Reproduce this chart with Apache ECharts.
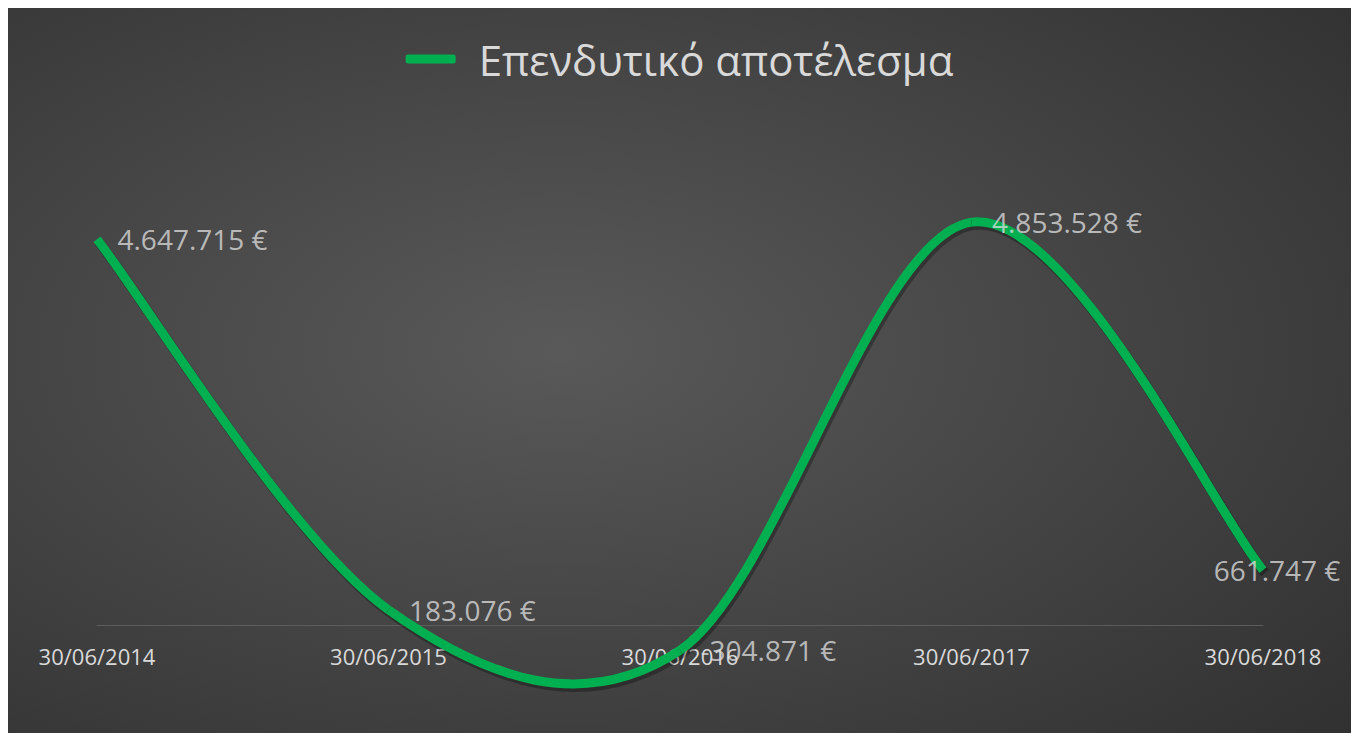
<!DOCTYPE html>
<html>
<head>
<meta charset="utf-8">
<script src="https://cdn.jsdelivr.net/npm/echarts@6/dist/echarts.min.js"></script>
<style>
  html, body { margin: 0; padding: 0; background: #fff; }
  #chart { position: absolute; left: 8px; top: 8px; width: 1343px; height: 725px; }
</style>
</head>
<body>
<div id="chart"></div>
<script>
const seriesName = 'Επενδυτικό αποτέλεσμα'
const dates = ['30/06/2014', '30/06/2015', '30/06/2016', '30/06/2017', '30/06/2018']
const values = [4647715, 183076, -304871, 4853528, 661747]

const euro = v => v.toLocaleString('de-DE') + ' €' // 4.647.715 €
const green = '#00b050'
const textColor = '#d9d9d9'
const font = '"Open Sans", "Noto Sans", sans-serif'

// Excel-like smooth line: Catmull-Rom segments, control points at ±(next - prev) / 6
const renderCurve = (params, api) => {
  if (params.dataIndex !== 0) return null
  const pts = values.map((v, i) => api.coord([i, v]))
  const segs = []
  for (let i = 0; i < pts.length - 1; i++) {
    const p0 = pts[i - 1] || pts[i]
    const p1 = pts[i]
    const p2 = pts[i + 1]
    const p3 = pts[i + 2] || pts[i + 1]
    segs.push({
      x1: p1[0], y1: p1[1],
      cpx1: p1[0] + (p2[0] - p0[0]) / 6, cpy1: p1[1] + (p2[1] - p0[1]) / 6,
      cpx2: p2[0] - (p3[0] - p1[0]) / 6, cpy2: p2[1] - (p3[1] - p1[1]) / 6,
      x2: p2[0], y2: p2[1]
    })
  }
  const curve = (style, dx, dy) => ({
    type: 'group', x: dx, y: dy,
    children: segs.map(shape => ({ type: 'bezierCurve', shape, style }))
  })
  return {
    type: 'group',
    children: [
      curve({ stroke: 'rgba(0,0,0,0.3)', lineWidth: 10, fill: 'none' }, 2, 3),
      curve({ stroke: green, lineWidth: 9, fill: 'none' }, 0, 0)
    ]
  }
}

const instance = echarts.init(document.getElementById('chart'), null, { renderer: 'svg' })
instance.setOption({
  backgroundColor: {
    type: 'radial', x: 0.41, y: 0.47, r: 1.0,
    colorStops: [
      { offset: 0, color: '#595959' },
      { offset: 1, color: '#262626' }
    ]
  },
  animation: false,
  legend: {
    top: 25,
    left: 'center',
    icon: 'roundRect',
    itemWidth: 50,
    itemHeight: 9,
    textStyle: { color: textColor, fontSize: 42, fontFamily: font, padding: [0, 0, 0, 18] },
    data: [{ name: seriesName, itemStyle: { color: green } }]
  },
  grid: { left: 89, right: 88, top: 202, bottom: 25, outerBoundsMode: 'none', containLabel: false },
  xAxis: {
    type: 'category',
    boundaryGap: false,
    data: dates,
    axisTick: { show: false },
    axisLine: { onZero: true, lineStyle: { color: '#5c5c5c', width: 1 } },
    // labels sit just under the zero line, inside the plot area
    axisLabel: { inside: true, color: textColor, fontSize: 22, fontFamily: font, margin: 41 }
  },
  yAxis: {
    type: 'value',
    min: -1000000,
    max: 5000000,
    show: false,
    splitLine: { show: false }
  },
  series: [{
    name: seriesName,
    type: 'custom',
    renderItem: renderCurve,
    itemStyle: { color: green },
    data: values.map((v, i) => [i, v]),
    z: 2
  }, {
    name: 'labels',
    type: 'scatter',
    symbolSize: 1,
    itemStyle: { color: 'rgba(0,0,0,0)' },
    label: {
      show: true,
      position: 'right',
      distance: 20,
      color: textColor,
      fontSize: 28,
      fontFamily: font,
      formatter: p => euro(p.value[1])
    },
    data: values.map((v, i) => i === values.length - 1
      ? { value: [i, v], label: { position: 'inside', offset: [14, 0] } }
      : [i, v]),
    z: 3
  }]
})
</script>
</body>
</html>
